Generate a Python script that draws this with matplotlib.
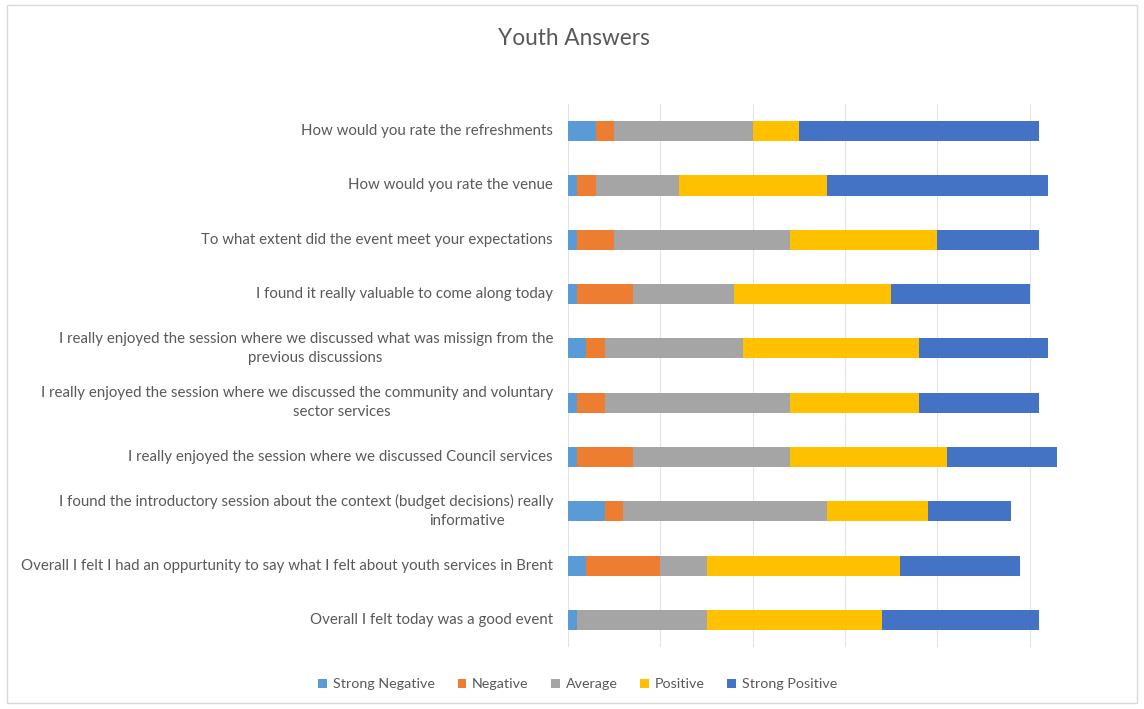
import matplotlib
matplotlib.use("Agg")
import matplotlib.pyplot as plt
from matplotlib.patches import Patch, Rectangle
import matplotlib.transforms as mtransforms

plt.rcParams['font.family'] = ['Lato', 'DejaVu Sans']

# survey questions, top to bottom (line breaks as they wrap on the axis)
questions = [
    "How would you rate the refreshments",
    "How would you rate the venue",
    "To what extent did the event meet your expectations",
    "I found it really valuable to come along today",
    "I really enjoyed the session where we discussed what was missign from the\nprevious discussions",
    "I really enjoyed the session where we discussed the community and voluntary\nsector services",
    "I really enjoyed the session where we discussed Council services",
    "I found the introductory session about the context (budget decisions) really\ninformative",
    "Overall I felt I had an oppurtunity to say what I felt about youth services in Brent",
    "Overall I felt today was a good event",
]

strong_negative = [3, 1, 1, 1, 2, 1, 1, 4, 2, 1]
negative = [2, 2, 4, 6, 2, 3, 6, 2, 8, 0]
average = [15, 9, 19, 11, 15, 20, 17, 22, 5, 14]
positive = [5, 16, 16, 17, 19, 14, 17, 11, 21, 19]
strong_positive = [26, 24, 11, 15, 14, 13, 12, 9, 13, 17]

series = [
    ("Strong Negative", strong_negative, "#5B9BD5"),
    ("Negative", negative, "#ED7D31"),
    ("Average", average, "#A5A5A5"),
    ("Positive", positive, "#FFC000"),
    ("Strong Positive", strong_positive, "#4472C4"),
]

text_col = "#595959"
grid_col = "#E3E3E3"
lab_size = 10.8

fig = plt.figure(figsize=(11.44, 7.09), dpi=100)
ax = fig.add_axes([0.4965, 0.0874, 0.4843, 0.7659])

ypos = list(range(len(questions)))
left = [0] * len(questions)
for name, vals, col in series:
    ax.barh(ypos, vals, left=left, height=0.37, color=col, label=name, zorder=3)
    left = [a + b for a, b in zip(left, vals)]

ax.set_xlim(0, 60)
ax.set_ylim(len(questions) - 0.5, -0.5)
ax.set_xticks(range(0, 61, 10))
ax.xaxis.grid(True, color=grid_col, linewidth=0.8, zorder=0)
ax.tick_params(axis='both', length=0, labelbottom=False, labelleft=False)
for s in ax.spines.values():
    s.set_visible(False)
ax.set_yticks([])

# category labels; wrapped second lines sit where the axis places them
second_line_x = {4: -0.457, 5: -0.408, 7: -0.182}
trans = mtransforms.blended_transform_factory(ax.transAxes, ax.transData)
for i, q in enumerate(questions):
    lines = q.split("\n")
    if len(lines) == 1:
        ax.text(-0.027, i, q, transform=trans, ha='right', va='center',
                fontsize=lab_size, color=text_col)
    else:
        ax.annotate(lines[0], xy=(-0.027, i), xycoords=trans, xytext=(0, 6.8),
                    textcoords='offset points', ha='right', va='center',
                    fontsize=lab_size, color=text_col)
        ax.annotate(lines[1], xy=(second_line_x[i], i), xycoords=trans,
                    xytext=(0, -6.8), textcoords='offset points',
                    ha='center', va='center', fontsize=lab_size, color=text_col)

fig.text(0.502, 0.946, "Youth Answers", ha='center', va='center',
         fontsize=16.3, color=text_col)

handles = [Patch(facecolor=c, label=n) for n, _, c in series]
fig.legend(handles=handles, loc='center', bbox_to_anchor=(0.505, 0.035),
           ncol=5, frameon=False, fontsize=10.3, labelcolor=text_col,
           handlelength=0.6, handleheight=0.6, handletextpad=0.4,
           columnspacing=1.6)

# light chart-area border
fig.patches.append(Rectangle((0.006, 0.008), 0.988, 0.985, transform=fig.transFigure,
                             fill=False, edgecolor="#D9D9D9", linewidth=1))

fig.savefig("out.png", dpi=100)
